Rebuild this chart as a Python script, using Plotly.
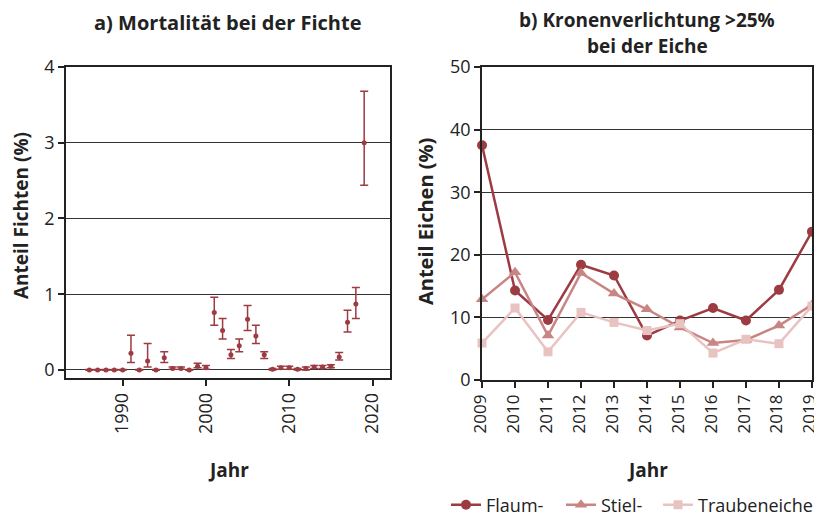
import plotly.graph_objects as go

# ---- Data panel a) ----
years_a = [1986, 1987, 1988, 1989, 1990, 1991, 1992, 1993, 1994, 1995,
           1996, 1997, 1998, 1999, 2000, 2001, 2002, 2003, 2004, 2005,
           2006, 2007, 2008, 2009, 2010, 2011, 2012, 2013, 2014, 2015,
           2016, 2017, 2018, 2019]
mort = [0.00, 0.00, 0.00, 0.00, 0.00, 0.22, 0.00, 0.12, 0.00, 0.16,
        0.02, 0.02, 0.00, 0.05, 0.03, 0.76, 0.52, 0.20, 0.32, 0.67,
        0.45, 0.20, 0.01, 0.03, 0.03, 0.01, 0.02, 0.04, 0.04, 0.05,
        0.17, 0.63, 0.87, 3.00]
err_plus = [0.005, 0.005, 0.005, 0.005, 0.005, 0.24, 0.005, 0.23, 0.005, 0.08,
            0.02, 0.02, 0.005, 0.04, 0.03, 0.20, 0.16, 0.07, 0.09, 0.18,
            0.14, 0.04, 0.01, 0.02, 0.02, 0.01, 0.02, 0.02, 0.02, 0.02,
            0.06, 0.16, 0.22, 0.68]
err_minus = [0.005, 0.005, 0.005, 0.005, 0.005, 0.12, 0.005, 0.08, 0.005, 0.06,
             0.01, 0.01, 0.005, 0.02, 0.02, 0.17, 0.11, 0.05, 0.08, 0.15,
             0.10, 0.05, 0.01, 0.02, 0.02, 0.01, 0.02, 0.02, 0.02, 0.02,
             0.04, 0.13, 0.19, 0.56]

# ---- Data panel b) ----
years_b = [2009, 2010, 2011, 2012, 2013, 2014, 2015, 2016, 2017, 2018, 2019]
flaum = [37.5, 14.3, 9.6, 18.4, 16.7, 7.1, 9.5, 11.5, 9.5, 14.4, 23.7]
stiel = [12.9, 17.2, 7.1, 17.1, 13.8, 11.3, 8.4, 5.9, 6.4, 8.7, 12.0]
traube = [5.9, 11.5, 4.5, 10.8, 9.2, 7.9, 9.0, 4.3, 6.5, 5.8, 11.8]

ticks_a_x = [1990, 2000, 2010, 2020]
ticks_a_y = [0, 1, 2, 3, 4]
ticks_b_y = [0, 10, 20, 30, 40, 50]

C_FLAUM = "#9c3b41"
C_STIEL = "#c98584"
C_TRAUBE = "#e8c3c1"
FONT = "Open Sans"
OFF = 8          # default page body margin
W, H = 822 - OFF, 524 - OFF

fig = go.Figure()

fig.add_trace(go.Scatter(
    x=years_a, y=mort, mode="markers", showlegend=False,
    marker=dict(color=C_FLAUM, size=5),
    error_y=dict(type="data", symmetric=False, array=err_plus, arrayminus=err_minus,
                 color=C_FLAUM, thickness=1.5, width=4),
    xaxis="x", yaxis="y"))

fig.add_trace(go.Scatter(
    x=years_b, y=flaum, mode="lines+markers", name="Flaum-", cliponaxis=False,
    line=dict(color=C_FLAUM, width=2.5),
    marker=dict(symbol="circle", size=10, color=C_FLAUM),
    xaxis="x2", yaxis="y2", legend="legend"))
fig.add_trace(go.Scatter(
    x=years_b, y=stiel, mode="lines+markers", name="Stiel-", cliponaxis=False,
    line=dict(color=C_STIEL, width=2.5),
    marker=dict(symbol="triangle-up", size=11, color=C_STIEL),
    xaxis="x2", yaxis="y2", legend="legend2"))
fig.add_trace(go.Scatter(
    x=years_b, y=traube, mode="lines+markers", name="Traubeneiche", cliponaxis=False,
    line=dict(color=C_TRAUBE, width=2.5),
    marker=dict(symbol="square", size=9, color=C_TRAUBE),
    xaxis="x2", yaxis="y2", legend="legend3"))

def px_x(p):
    return (p - OFF) / W

def px_y(p):
    return 1 - (p - OFF) / H

tickfont = dict(family=FONT, size=18, color="#222")
common_axis = dict(showline=True, linecolor="#222", linewidth=1.5, mirror=True,
                   ticks="outside", tickcolor="#222", ticklen=6, tickwidth=1.5,
                   zeroline=False, automargin=False, ticklabeloverflow="allow")

def leg(xpx):
    return dict(orientation="h", x=px_x(xpx), y=px_y(505), xanchor="left", yanchor="middle",
                font=dict(family=FONT, size=18, color="#222"),
                bgcolor="rgba(0,0,0,0)", itemwidth=30)

fig.update_layout(
    width=W, height=H,
    margin=dict(l=0, r=0, t=0, b=0, autoexpand=False),
    paper_bgcolor="white", plot_bgcolor="white",
    font=dict(family=FONT, color="#222"),
    xaxis=dict(domain=[px_x(66), px_x(390)], range=[1983.2, 2022.1],
               tickvals=ticks_a_x, tickangle=-90, showgrid=False,
               anchor="y", tickfont=tickfont, **common_axis),
    yaxis=dict(domain=[px_y(378), px_y(67)], range=[-0.106, 4],
               tickvals=ticks_a_y, showgrid=True, gridcolor="#333", gridwidth=1,
               anchor="x", tickfont=tickfont, **common_axis),
    xaxis2=dict(domain=[px_x(482), px_x(812)], range=[2008.999, 2019.001],
                tickvals=years_b, tickangle=-90, showgrid=False,
                anchor="y2", tickfont=dict(family=FONT, size=17, color="#222"),
                ticklabelshift=-2, **common_axis),
    yaxis2=dict(domain=[px_y(380), px_y(67)], range=[0, 50],
                tickvals=ticks_b_y, showgrid=True, gridcolor="#333", gridwidth=1,
                anchor="x2", tickfont=tickfont, **common_axis),
    legend=leg(446),
    legend2=leg(561),
    legend3=leg(658),
)

ann = [
    dict(text="<b>a) Mortalität bei der Fichte</b>", x=px_x(228), y=px_y(22), size=20),
    dict(text="<b>b) Kronenverlichtung >25%</b>", x=px_x(647), y=px_y(20), size=19),
    dict(text="<b>bei der Eiche</b>", x=px_x(647), y=px_y(46), size=19),
    dict(text="<b>Jahr</b>", x=px_x(228), y=px_y(470), size=19),
    dict(text="<b>Jahr</b>", x=px_x(647), y=px_y(470), size=19),
    dict(text="<b>Anteil Fichten (%)</b>", x=px_x(21), y=px_y(216), size=19, textangle=-90),
    dict(text="<b>Anteil Eichen (%)</b>", x=px_x(425), y=px_y(222), size=20, textangle=-90),
]
for a in ann:
    size = a.pop("size")
    fig.add_annotation(xref="paper", yref="paper", showarrow=False,
                       xanchor="center", yanchor="middle",
                       font=dict(family=FONT, size=size, color="#222"), **a)

fig.write_html("out.html")
